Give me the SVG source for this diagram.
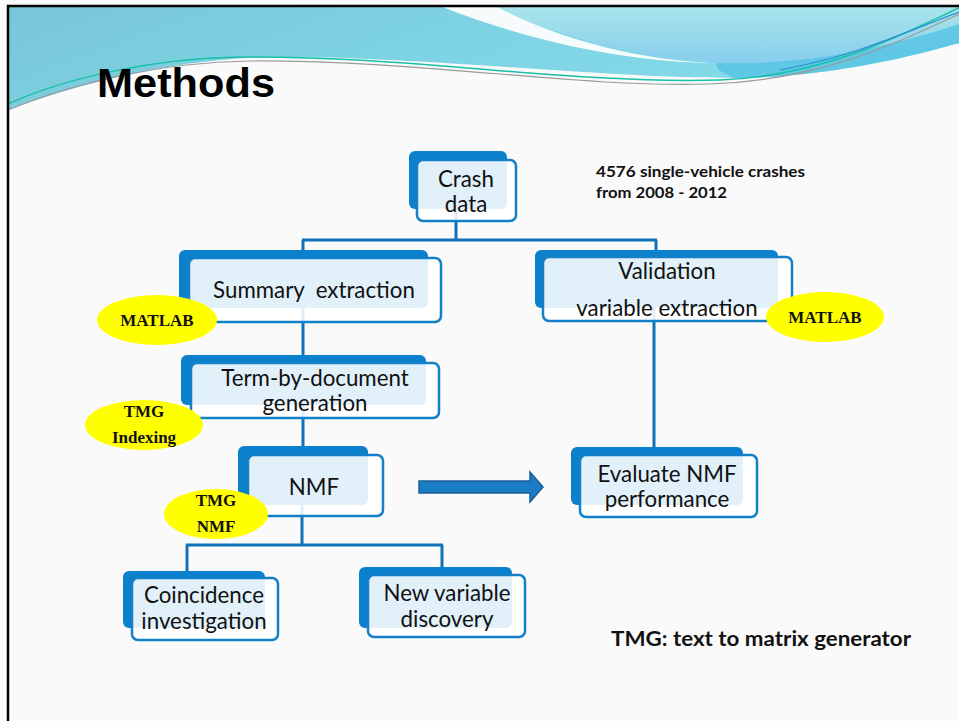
<svg xmlns="http://www.w3.org/2000/svg" width="959" height="721" viewBox="0 0 959 721">
<defs>
<linearGradient id="gLeft" x1="0" y1="0" x2="1" y2="0.3">
<stop offset="0" stop-color="#79c6d8"/>
<stop offset="0.5" stop-color="#7dd3e3"/>
<stop offset="1" stop-color="#86dbe9"/>
</linearGradient>
<linearGradient id="gRight" x1="0" y1="0" x2="0" y2="1">
<stop offset="0" stop-color="#a9e5ea"/>
<stop offset="1" stop-color="#86cdee"/>
</linearGradient>
<style>
.back{fill:#0b80cc;}
.front{fill:#ffffff;fill-opacity:0.88;stroke:#1480c8;stroke-width:2.5;}
.lbl{font-family:Lato,"Open Sans",sans-serif;font-size:22.3px;fill:#111;text-anchor:middle;}
.conn{fill:none;stroke:#1172ba;stroke-width:3;}
.ell{fill:#ffff00;}
.tag{font-family:"Liberation Serif","Times New Roman",serif;font-weight:bold;font-size:17px;fill:#111;text-anchor:middle;}
.note{font-family:Lato,"Open Sans",sans-serif;font-weight:bold;fill:#111;}
</style>
</defs>
<rect x="0" y="0" width="959" height="721" fill="#fafafa"/>
<g id="header">
<path d="M8,6 H959 V43 C880,66 800,78 734,78 C600,78 420,56 275,57 C170,59 80,84 8,110 Z" fill="url(#gLeft)"/>
<path d="M492,6 H959 V43 C880,62 800,66 716,63 C640,58 560,38 492,6 Z" fill="url(#gRight)"/>
<path d="M716,63 C800,66 880,50 959,24 V43 C880,66 800,78 734,78 C720,72 716,68 716,63 Z" fill="#55c3e3" opacity="0.8"/>
<path d="M440,6 H495 C560,40 640,60 712,63 C630,62 530,42 440,6 Z" fill="#f6fbfc"/>
<path d="M8,104 C60,80 150,58 240,57 C420,56 560,84 720,80 C820,76 890,40 959,8" fill="none" stroke="#18c0a6" stroke-width="1.5"/>
<path d="M8,110 C70,84 160,62 250,61 C430,60 570,88 710,84 C820,80 890,46 959,14" fill="none" stroke="#9a9a9a" stroke-width="1.2"/>
<path d="M780,70 C860,55 910,30 959,12" fill="none" stroke="#2a8fd0" stroke-width="1.2"/>
</g>
<path d="M8,721 V6 H959" fill="none" stroke="#000" stroke-width="2.5"/>
<text x="97" y="97" font-family="'Liberation Sans',Arial,sans-serif" font-weight="bold" font-size="41" textLength="178" lengthAdjust="spacingAndGlyphs" fill="#000">Methods</text>

<g id="connectors">
<path class="conn" d="M456,205 V240 M302,240 H657 M303,240 V252 M656,240 V252"/>
<path class="conn" d="M303,305 V357"/>
<path class="conn" d="M303,405 V448"/>
<path class="conn" d="M302,505 V545 M186,545 H443 M187,545 V573 M442,545 V569"/>
<path class="conn" d="M654,308 V449"/>
<path d="M419,481 H530 V472 L543,487 L530,502 V493 H419 Z" fill="#1a7cc4" stroke="#1c5d98" stroke-width="1.5"/>
</g>

<g id="crash">
<rect class="back" x="409" y="151" width="98" height="58" rx="6"/>
<rect class="front" x="417" y="160" width="99" height="61" rx="6"/>
<text class="lbl" x="466" y="187">Crash</text>
<text class="lbl" x="466" y="212">data</text>
</g>
<g id="summary">
<rect class="back" x="179" y="250" width="249" height="58" rx="6"/>
<rect class="front" x="189" y="258" width="252" height="64" rx="6"/>
<text class="lbl" x="314" y="298" xml:space="preserve">Summary  extraction</text>
</g>
<g id="validation">
<rect class="back" x="535" y="250" width="243" height="58" rx="6"/>
<rect class="front" x="543" y="257" width="249" height="64" rx="6"/>
<text class="lbl" x="667" y="279">Validation</text>
<text class="lbl" x="667" y="316">variable extraction</text>
</g>
<g id="term">
<rect class="back" x="181" y="355" width="245" height="50" rx="6"/>
<rect class="front" x="191" y="363" width="248" height="55" rx="6"/>
<text class="lbl" x="315" y="386">Term-by-document</text>
<text class="lbl" x="315" y="411">generation</text>
</g>
<g id="nmf">
<rect class="back" x="238" y="446" width="130" height="59" rx="6"/>
<rect class="front" x="248" y="455" width="135" height="61" rx="6"/>
<text class="lbl" x="314" y="495">NMF</text>
</g>
<g id="coincidence">
<rect class="back" x="123" y="571" width="142" height="57" rx="6"/>
<rect class="front" x="132" y="578" width="146" height="62" rx="6"/>
<text class="lbl" x="204" y="603">Coincidence</text>
<text class="lbl" x="204" y="629">investigation</text>
</g>
<g id="newvar">
<rect class="back" x="359" y="567" width="153" height="61" rx="6"/>
<rect class="front" x="368" y="575" width="157" height="62" rx="6"/>
<text class="lbl" x="447" y="601">New variable</text>
<text class="lbl" x="447" y="627">discovery</text>
</g>
<g id="evaluate">
<rect class="back" x="571" y="447" width="172" height="58" rx="6"/>
<rect class="front" x="580" y="455" width="177" height="62" rx="6"/>
<text class="lbl" x="667" y="482">Evaluate NMF</text>
<text class="lbl" x="667" y="507">performance</text>
</g>

<g id="matlab-left">
<ellipse class="ell" cx="157" cy="320" rx="60" ry="25"/>
<text class="tag" x="157" y="326">MATLAB</text>
</g>
<g id="matlab-right">
<ellipse class="ell" cx="825" cy="317" rx="59" ry="25"/>
<text class="tag" x="825" y="323">MATLAB</text>
</g>
<g id="tmg-indexing">
<ellipse class="ell" cx="144" cy="425" rx="59" ry="25"/>
<text class="tag" x="144" y="417">TMG</text>
<text class="tag" x="144" y="443">Indexing</text>
</g>
<g id="tmg-nmf">
<ellipse class="ell" cx="216" cy="514" rx="52" ry="25"/>
<text class="tag" x="216" y="506">TMG</text>
<text class="tag" x="216" y="532">NMF</text>
</g>

<g id="notes">
<text class="note" x="596" y="177" font-size="15.5" textLength="209" lengthAdjust="spacingAndGlyphs">4576 single-vehicle crashes</text>
<text class="note" x="596" y="198" font-size="15.5" textLength="131" lengthAdjust="spacingAndGlyphs">from 2008 - 2012</text>
<text class="note" x="611" y="646" font-size="20.5" textLength="300" lengthAdjust="spacingAndGlyphs">TMG: text to matrix generator</text>
</g>
</svg>
